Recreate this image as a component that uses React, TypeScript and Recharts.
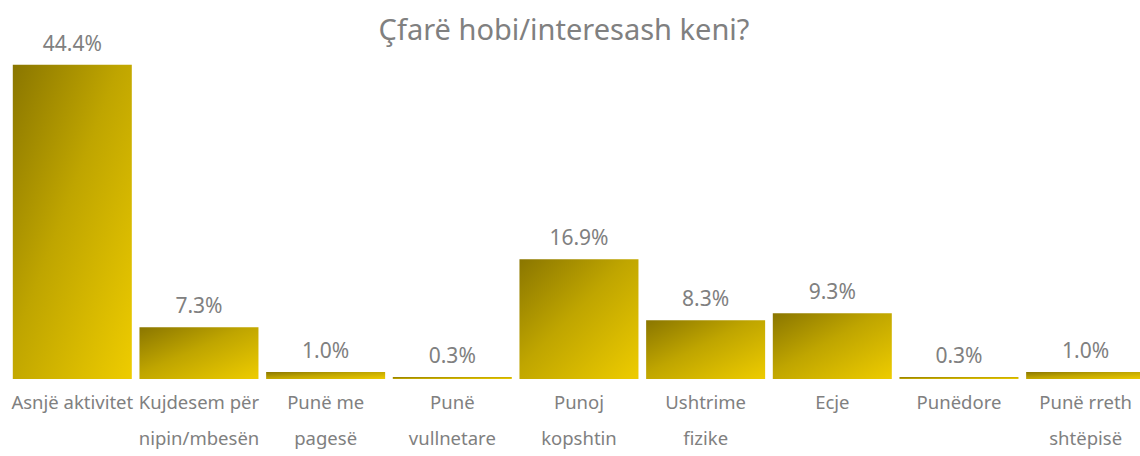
import { BarChart, Bar, XAxis, YAxis, LabelList } from "recharts";

const categories = [
  "Asnjë aktivitet",
  "Kujdesem për\nnipin/mbesën",
  "Punë me\npagesë",
  "Punë\nvullnetare",
  "Punoj\nkopshtin",
  "Ushtrime\nfizike",
  "Ecje",
  "Punëdore",
  "Punë rreth\nshtëpisë",
];
const shares = [44.4, 7.3, 1.0, 0.3, 16.9, 8.3, 9.3, 0.3, 1.0];

const data = categories.map((c, i) => ({ name: c, value: shares[i] }));

const FONT = "'Noto Sans', 'Open Sans', sans-serif";
const GREY = "#808080";

function CatTick(props: any) {
  const { x, y, payload } = props;
  const lines = String(payload.value).split("\n");
  return (
    <g>
      {lines.map((l, i) => (
        <text key={i} x={x} y={y + 22 + i * 36} textAnchor="middle" fill={GREY} fontSize={18.5} fontFamily={FONT}>
          {l}
        </text>
      ))}
    </g>
  );
}

function ValueLabel(props: any) {
  const { x, y, width, value } = props;
  return (
    <text x={x + width / 2} y={y - 22} textAnchor="middle" dominantBaseline="central" fill={GREY} fontSize={21} fontFamily={FONT}>
      {Number(value).toFixed(1)}%
    </text>
  );
}

export default function App() {
  return (
    <div style={{ position: "fixed", left: 0, top: 0, width: 1140, height: 456, overflow: "hidden", background: "#fff" }}>
      <div style={{ position: "absolute", top: 9, left: 0, width: 1128, textAlign: "center", fontFamily: FONT, fontSize: 29, lineHeight: "40px", color: GREY }}>
        Çfarë hobi/interesash keni?
      </div>
      <BarChart width={1160} height={456} data={data} barCategoryGap="3%" margin={{ top: 25, right: 11, left: 9, bottom: 7 }}>
        <defs>
          <linearGradient id="gold" x1="0" y1="0" x2="1" y2="1">
            <stop offset="0%" stopColor="#8a7600" />
            <stop offset="45%" stopColor="#bfa500" />
            <stop offset="100%" stopColor="#eecc00" />
          </linearGradient>
        </defs>
        <XAxis dataKey="name" axisLine={false} tickLine={false} interval={0} height={70} tick={<CatTick />} />
        <YAxis hide domain={[0, 50]} />
        <Bar dataKey="value" fill="url(#gold)" isAnimationActive={false}>
          <LabelList dataKey="value" content={<ValueLabel />} />
        </Bar>
      </BarChart>
    </div>
  );
}
